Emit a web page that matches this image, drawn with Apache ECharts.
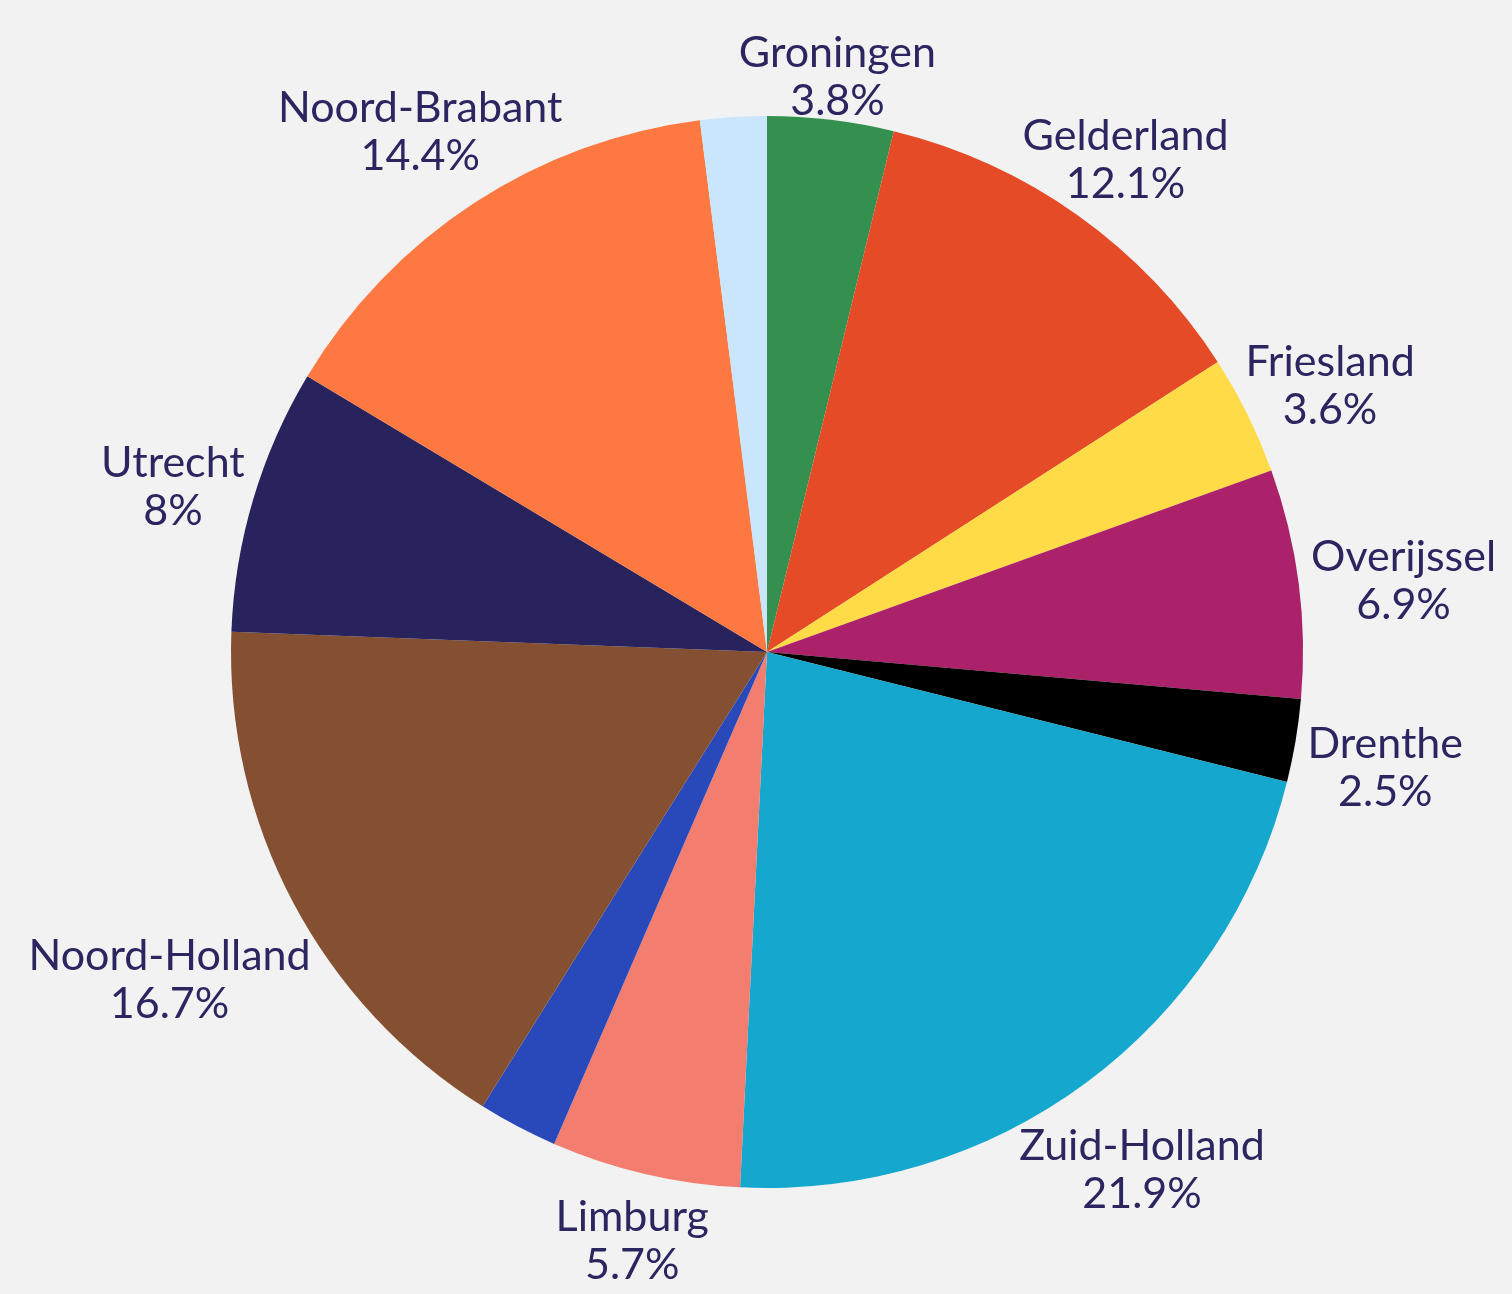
<!DOCTYPE html>
<html lang="nl">

<head>
    <meta charset="utf-8" />
    <title>Provincies</title>
    <style>
        html, body { margin: 0; padding: 0; background: #f2f2f2; }
    </style>
</head>

<body>
    <div id="main" style="width:1512px;height:1294px"></div>
    <script src="https://cdn.jsdelivr.net/npm/echarts@6/dist/echarts.min.js"></script>
    <script>
        // data, clockwise from the top
        var provinces = ['Groningen', 'Gelderland', 'Friesland', 'Overijssel', 'Drenthe', 'Zuid-Holland',
            'Limburg', 'Zeeland', 'Noord-Holland', 'Utrecht', 'Noord-Brabant', 'Flevoland'];
        var shares = [3.8, 12.1, 3.6, 6.9, 2.5, 21.9, 5.7, 2.4, 16.7, 8, 14.4, 2.0];
        var colors = ['#33904f', '#e44b26', '#fedb47', '#ab226b', '#000000', '#14a8cf',
            '#f37e70', '#2949bb', '#845031', '#28235d', '#fe7842', '#c9e6fd'];
        // slices whose label is not shown
        var hiddenLabels = ['Zeeland', 'Flevoland'];

        var cx = 767, cy = 652, R = 536;
        var gap = 14, shiftY = 12;
        var total = shares.reduce(function (a, b) { return a + b; }, 0);

        // mid angle of a slice (radians, from top, clockwise)
        function midAngle(idx) {
            var before = 0;
            for (var i = 0; i < idx; i++) before += shares[i];
            return (before + shares[idx] / 2) / total * Math.PI * 2;
        }

        var myChart = echarts.init(document.getElementById('main'));

        var option = {
            backgroundColor: '#f2f2f2',
            series: [{
                type: 'pie',
                center: [cx, cy],
                radius: R,
                startAngle: 90,
                clockwise: true,
                avoidLabelOverlap: false,
                animation: false,
                label: {
                    show: true,
                    position: 'outside',
                    formatter: '{b}\n{c}%',
                    fontFamily: 'Lato',
                    fontSize: 43,
                    lineHeight: 48,
                    color: '#2b2560'
                },
                labelLine: { show: false },
                emphasis: { disabled: true },
                // put each label just outside its slice, centred on the slice direction
                labelLayout: function (params) {
                    var a = midAngle(params.dataIndex);
                    var dx = Math.sin(a), dy = -Math.cos(a);
                    var hw = params.labelRect.width / 2, hh = params.labelRect.height / 2 - 8;
                    var ext = Math.sqrt(dx * dx * hw * hw + dy * dy * hh * hh);
                    var r = R + gap + ext;
                    return {
                        x: cx + r * dx,
                        y: cy + r * dy + shiftY,
                        align: 'center',
                        verticalAlign: 'middle'
                    };
                },
                data: provinces.map(function (name, i) {
                    return {
                        name: name,
                        value: shares[i],
                        itemStyle: { color: colors[i] },
                        label: { show: hiddenLabels.indexOf(name) < 0 }
                    };
                })
            }]
        };
        myChart.setOption(option);
    </script>
</body>

</html>
